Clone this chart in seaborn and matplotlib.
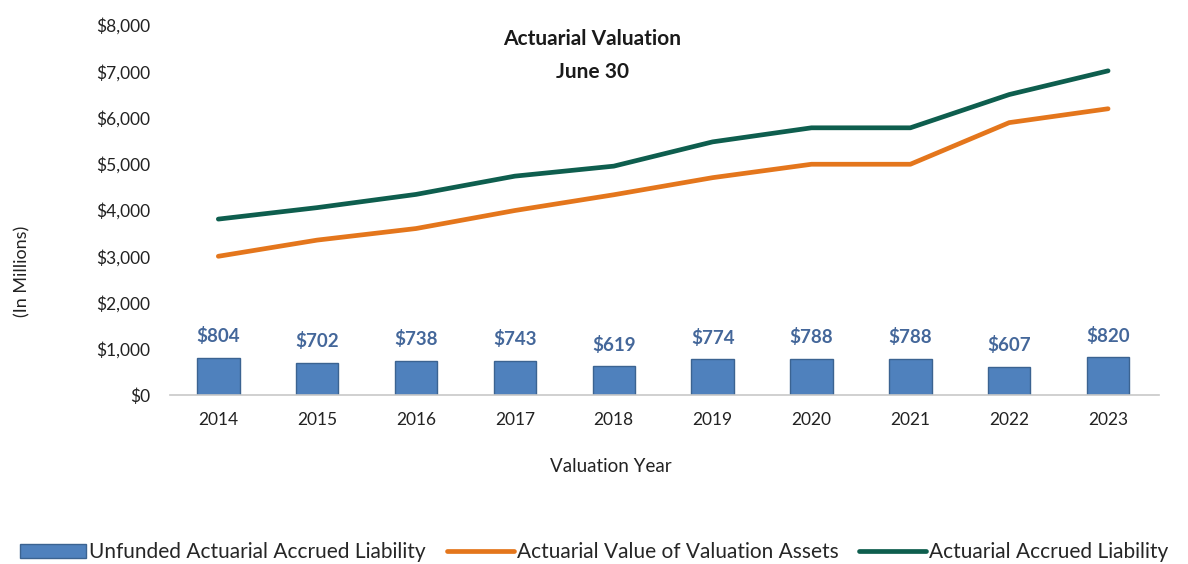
import pandas as pd
import seaborn as sns
import matplotlib.pyplot as plt
from matplotlib.ticker import FuncFormatter

# %%
years = [2014, 2015, 2016, 2017, 2018, 2019, 2020, 2021, 2022, 2023]
unfunded = [804, 702, 738, 743, 619, 774, 788, 788, 607, 820]
assets = [3000, 3350, 3600, 3990, 4330, 4700, 4990, 4990, 5890, 6190]
accrued = [3804, 4052, 4338, 4733, 4949, 5474, 5778, 5778, 6497, 7010]

bar_color = "#4F81BD"
orange = "#E4761C"
green = "#0E5E4E"
label_color = "#44679A"

df = pd.DataFrame({"year": years, "unfunded": unfunded,
                   "assets": assets, "accrued": accrued})

# %%
sns.set_style("white")
plt.rcParams["font.family"] = ["Lato", "DejaVu Sans"]

fig = plt.figure(figsize=(11.88, 5.64), dpi=100)
ax = fig.add_axes([0.143, 0.2996, 0.833, 0.656])

sns.barplot(data=df, x="year", y="unfunded", native_scale=True, width=0.43,
            color=bar_color, edgecolor="#3B6391", linewidth=1.0,
            saturation=1, ax=ax, label="Unfunded Actuarial Accrued Liability")
sns.lineplot(data=df, x="year", y="assets", color=orange, linewidth=3.4,
             ax=ax, label="Actuarial Value of Valuation Assets")
sns.lineplot(data=df, x="year", y="accrued", color=green, linewidth=3.4,
             ax=ax, label="Actuarial Accrued Liability")

ax.bar_label(ax.containers[0], labels=["$%d" % v for v in unfunded],
             padding=9, color=label_color, fontsize=13.5, fontweight="bold")

ax.set_ylim(0, 8000)
ax.set_xlim(years[0] - 0.49, years[-1] + 0.52)
ax.set_yticks(range(0, 8001, 1000))
ax.yaxis.set_major_formatter(FuncFormatter(lambda v, p: "${:,.0f}".format(v)))
ax.set_xticks(years)
ax.set_xticklabels([str(y) for y in years])
ax.tick_params(axis="both", labelsize=12.5, colors="#222222", length=0, pad=12)
ax.tick_params(axis="y", pad=14)
ax.set_xlabel("")
ax.set_ylabel("")

for s in ["top", "right", "left"]:
    ax.spines[s].set_visible(False)
ax.spines["bottom"].set_color("#C8C8C8")
ax.spines["bottom"].set_linewidth(1.2)

# legend: bars first, then the two lines
ax.get_legend().remove()
handles, labels = ax.get_legend_handles_labels()
order = [2, 0, 1]
fig.legend([handles[i] for i in order], [labels[i] for i in order],
           loc="lower center", bbox_to_anchor=(0.5, -0.03),
           ncol=3, frameon=False, fontsize=15, handlelength=3.2,
           columnspacing=1.0, handletextpad=0.15)

fig.text(0.4985, 0.93, "Actuarial Valuation", ha="center", va="center",
         fontsize=15, fontweight="bold", color="#1a1a1a")
fig.text(0.4985, 0.872, "June 30", ha="center", va="center",
         fontsize=15, fontweight="bold", color="#1a1a1a")
fig.text(0.514, 0.172, "Valuation Year", ha="center", va="center",
         fontsize=13.5, color="#222222")
fig.text(0.019, 0.518, "(In Millions)", ha="center", va="center",
         rotation=90, fontsize=13, color="#222222")

fig.savefig("out.png", dpi=100)
